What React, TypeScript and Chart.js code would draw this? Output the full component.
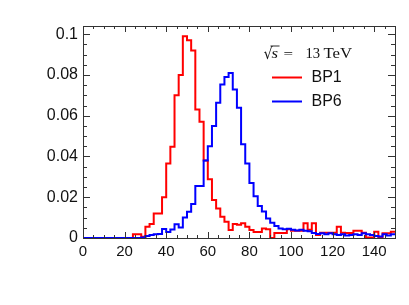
import { useEffect, useRef } from 'react';
import { Chart, registerables } from 'chart.js';

Chart.register(...registerables);

// Histogram binning (GeV)
const xMin = 0;
const xMax = 150;
const binWidth = 2;

// Normalised distributions, one value per 2 GeV bin from 0 to 150
const bp1Values = [
  0, 0, 0, 0, 0, 0, 0, 0, 0, 0, 0, 0,
  0.0018, 0.0018, 0.0006, 0.0055, 0.0069, 0.012, 0.012, 0.020,
  0.0366, 0.0448, 0.070, 0.080, 0.099, 0.097, 0.092, 0.063,
  0.057, 0.038, 0.0288, 0.0186, 0.0145, 0.0104, 0.008, 0.0039,
  0.0069, 0.0065, 0.0072, 0.0055, 0.0039, 0.003, 0.003, 0.0047,
  0.0043, 0.0, 0.0024, 0.0024, 0.0024, 0.0043, 0.0036, 0.0036,
  0.0036, 0.0072, 0.004, 0.0072, 0.0015, 0.0026, 0.0026, 0.0026,
  0.0026, 0.0055, 0.0026, 0.0024, 0.0024, 0.0036, 0.0036, 0.0026,
  0.0003, 0.0003, 0.0031, 0.0, 0.0023, 0.0023, 0.0031,
];

const bp6Values = [
  0, 0, 0, 0, 0, 0, 0, 0, 0, 0, 0, 0, 0, 0,
  0.0003, 0.001, 0.0015, 0.0018, 0.002, 0.0044, 0.003, 0.0042,
  0.0067, 0.0052, 0.010, 0.0129, 0.0167, 0.0255, 0.0255, 0.038,
  0.045, 0.055, 0.0663, 0.0753, 0.079, 0.081, 0.0729, 0.0639,
  0.046, 0.0366, 0.027, 0.0205, 0.0157, 0.013, 0.0096, 0.0075,
  0.0059, 0.0047, 0.0043, 0.0045, 0.004, 0.0037, 0.004, 0.0035,
  0.0033, 0.0025, 0.002, 0.0023, 0.0018, 0.0023, 0.0018, 0.0015,
  0.0018, 0.0012, 0.0015, 0.0018, 0.0015, 0.0023, 0.0018, 0.0015,
  0.001, 0.0007, 0.0018, 0.0012, 0.0018,
];

const xTickValues = [0, 20, 40, 60, 80, 100, 120, 140];
const yTickValues = [0, 0.02, 0.04, 0.06, 0.08, 0.1];
const yMax = 0.104;

const seriesNames = ['BP1', 'BP6'];
const seriesColors = ['#ff0000', '#0000ff'];
const energyValue = '13';
const energyUnit = 'TeV';

function toSteps(values: number[]) {
  const pts = values.map((v, i) => ({ x: xMin + i * binWidth, y: v }));
  pts.push({ x: xMax, y: values[values.length - 1] });
  return pts;
}

function stretchedText(ctx: any, text: string, x: number, y: number, font: string, sx: number) {
  ctx.save();
  ctx.font = font;
  ctx.translate(x, y);
  ctx.scale(sx, 1);
  ctx.fillText(text, 0, 0);
  const w = ctx.measureText(text).width * sx;
  ctx.restore();
  return w;
}

const framePlugin = {
  id: 'frameTicks',
  afterDraw(chart: any) {
    const { ctx, chartArea: a, scales } = chart;
    const xs = scales.x;
    const ys = scales.y;
    ctx.save();
    ctx.strokeStyle = '#333';
    ctx.lineWidth = 1;
    ctx.strokeRect(a.left + 0.5, a.top + 0.5, a.right - a.left, a.bottom - a.top);
    ctx.beginPath();
    // x ticks (bottom & top), minor every 5, major every 20
    for (let v = xMin; v <= xMax + 1e-9; v += 5) {
      const p = Math.round(xs.getPixelForValue(v)) + 0.5;
      const len = v % 20 === 0 ? 6 : 3;
      ctx.moveTo(p, a.bottom);
      ctx.lineTo(p, a.bottom - len);
      ctx.moveTo(p, a.top);
      ctx.lineTo(p, a.top + len);
    }
    // y ticks (left & right), minor every 0.005, major every 0.02
    for (let k = 0; k * 0.005 <= yMax + 1e-9; k++) {
      const v = k * 0.005;
      const p = Math.round(ys.getPixelForValue(v)) + 0.5;
      const len = k % 4 === 0 ? 7 : 4;
      ctx.moveTo(a.left, p);
      ctx.lineTo(a.left + len, p);
      ctx.moveTo(a.right, p);
      ctx.lineTo(a.right - len, p);
    }
    ctx.stroke();

    // Energy label: sqrt(s) = 13 TeV
    ctx.fillStyle = '#111';
    ctx.textBaseline = 'alphabetic';
    const by = 57.5;
    stretchedText(ctx, '\u221A', 263.5, by + 1, '16px "DejaVu Serif"', 0.9);
    const sW = stretchedText(ctx, 's', 271.5, by, 'italic 14px "Liberation Serif"', 1.2);
    ctx.beginPath();
    ctx.lineWidth = 0.9;
    ctx.strokeStyle = '#111';
    ctx.moveTo(270.5, by - 11.5);
    ctx.lineTo(272 + sW + 1, by - 11.5);
    ctx.stroke();
    stretchedText(ctx, '=', 283.5, by, '13px "Liberation Serif"', 1.3);
    stretchedText(ctx, energyValue, 305.5, by, '14px "Liberation Serif"', 1.05);
    stretchedText(ctx, energyUnit, 323.5, by, '14px "Liberation Serif"', 1.2);

    const rows = [77.5, 101.5];
    rows.forEach((ry, i) => {
      ctx.beginPath();
      ctx.strokeStyle = seriesColors[i];
      ctx.lineWidth = 2;
      ctx.moveTo(272, ry);
      ctx.lineTo(302, ry);
      ctx.stroke();
      ctx.fillStyle = '#111';
      ctx.font = '16px "Liberation Sans"';
      ctx.textBaseline = 'middle';
      ctx.fillText(seriesNames[i], 311.5, ry + 0.5);
    });
    ctx.restore();
  },
};

export default function App() {
  const ref = useRef<HTMLCanvasElement | null>(null);
  useEffect(() => {
    if (!ref.current) return;
    const chart = new Chart(ref.current, {
      type: 'line',
      data: {
        datasets: [
          {
            label: seriesNames[0],
            data: toSteps(bp1Values),
            borderColor: seriesColors[0],
            borderWidth: 2,
            pointRadius: 0,
            stepped: 'before',
            fill: false,
            order: 1,
            clip: 3,
          },
          {
            label: seriesNames[1],
            data: toSteps(bp6Values),
            borderColor: seriesColors[1],
            borderWidth: 2,
            pointRadius: 0,
            stepped: 'before',
            fill: false,
            order: 0,
            clip: 3,
          },
        ],
      },
      options: {
        animation: false,
        responsive: false,
        events: [],
        layout: { padding: { left: 0, right: 14, top: 26, bottom: 0 } },
        plugins: { legend: { display: false }, tooltip: { enabled: false } },
        scales: {
          x: {
            type: 'linear',
            min: xMin,
            max: xMax,
            grid: { display: false, drawTicks: false },
            border: { display: false },
            afterBuildTicks: (s: any) => {
              s.ticks = xTickValues.map((v) => ({ value: v }));
            },
            afterFit: (s: any) => {
              s.height = 67;
            },
            ticks: {
              padding: 5,
              maxRotation: 0,
              autoSkip: false,
              color: '#111',
              font: { family: '"Liberation Sans"', size: 15 },
              callback: (v: any) => String(v),
            },
          },
          y: {
            type: 'linear',
            min: 0,
            max: yMax,
            grid: { display: false, drawTicks: false },
            border: { display: false },
            afterBuildTicks: (s: any) => {
              s.ticks = yTickValues.map((v) => ({ value: v }));
            },
            afterFit: (s: any) => {
              s.width = 83;
            },
            ticks: {
              padding: 5,
              autoSkip: false,
              color: '#111',
              font: { family: '"Liberation Sans"', size: 16 },
              callback: (v: any) => (v === 0 ? '0' : String(Number(v.toFixed(3)))),
            },
          },
        },
      },
      plugins: [framePlugin],
    } as any);
    return () => chart.destroy();
  }, []);
  return (
    <div style={{ position: 'fixed', left: 0, top: 0, width: 409, height: 305, background: '#fff' }}>
      <canvas ref={ref} width={409} height={305} />
    </div>
  );
}
